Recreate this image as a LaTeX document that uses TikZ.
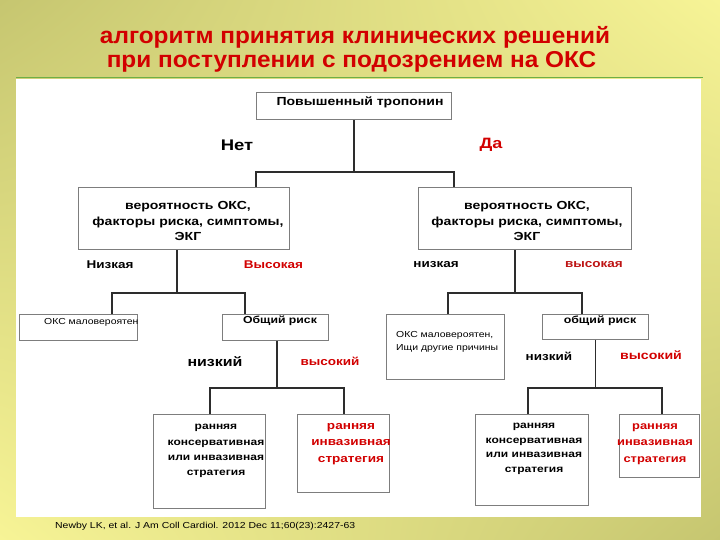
\documentclass[tikz,border=0pt]{standalone}
\usepackage{fontspec}
\setmainfont{Liberation Sans}[FakeStretch=1.2]
\newfontfamily\titlefont{Liberation Sans}[FakeStretch=1.06]
\usetikzlibrary{shadings}
\definecolor{olivebg}{RGB}{198,198,112}
\definecolor{lightyel}{RGB}{247,244,150}
\definecolor{titlered}{RGB}{210,0,0}
\definecolor{darkred}{RGB}{190,20,20}
\definecolor{boxgray}{RGB}{125,125,125}
\definecolor{linegray}{RGB}{45,45,45}
\definecolor{panelgreen}{RGB}{110,175,70}
\tikzset{
  box/.style={draw=boxgray, line width=1.1pt, fill=white, anchor=north west, inner sep=0pt},
  conn/.style={draw=linegray, line width=1.4pt},
  txt/.style={font=\bfseries\fontsize{11.7}{15.5}\selectfont, align=center, inner sep=0pt},
  lbl/.style={font=\bfseries\fontsize{11.25}{14}\selectfont, inner sep=0pt},
  small/.style={font=\fontsize{8.7}{12.5}\selectfont, align=left, inner sep=0pt},
  ttl/.style={titlered, font=\titlefont\bfseries\fontsize{23}{24}\selectfont, inner sep=0pt, anchor=base},
}
\begin{document}
\begin{tikzpicture}[x=1pt,y=-1pt]
\useasboundingbox (0,0) rectangle (720,540);
\shade[upper left=olivebg, upper right=lightyel, lower left=lightyel, lower right=olivebg] (0,0) rectangle (720,540);
\fill[white] (16,79) rectangle (701,517);
\draw[panelgreen, line width=1pt] (16,78) -- (703,78);

% title
\node[ttl] (t1) at (355,44) {алгоритм принятия клинических решений};
\node[ttl] (t2) at (351.5,68) {при поступлении с подозрением на ОКС};

% level 1
\node[box, minimum width=195pt, minimum height=27pt] (trop) at (256,92) {};
\node[txt] (troptxt) at (360,102) {Повышенный тропонин};
\node[lbl, font=\bfseries\fontsize{15.4}{18}\selectfont] (net) at (237,145) {Нет};
\node[lbl, titlered, font=\bfseries\fontsize{15}{18}\selectfont] (da) at (491,145) {Да};

% level 2
\node[box, minimum width=211pt, minimum height=62pt] (L2) at (78,187) {};
\node[txt] (L2t) at (188,221) {вероятность ОКС,\\ факторы риска, симптомы,\\ ЭКГ};
\node[box, minimum width=213pt, minimum height=62pt] (R2) at (418,187) {};
\node[txt] (R2t) at (527,221) {вероятность ОКС,\\ факторы риска, симптомы,\\ ЭКГ};

\coordinate (a1) at (256,172);
\coordinate (a2) at (454,172);
\draw[conn] (trop.south) -- (trop.south |- a1);
\draw[conn] (L2.north -| a1) -- (a1) -- (a2) -- (R2.north -| a2);

\node[lbl] (nizkL) at (110,265) {Низкая};
\node[lbl, titlered] (vysL) at (273.5,265) {Высокая};
\node[lbl] (nizkR) at (436,265) {низкая};
\node[lbl, darkred] (vysR) at (594,265) {высокая};

% level 3
\node[box, minimum width=118pt, minimum height=26pt] (L3a) at (19,314) {};
\node[small, anchor=west] (L3at) at (44,322) {ОКС маловероятен};
\node[box, minimum width=106pt, minimum height=26pt] (L3b) at (222,314) {};
\node[lbl, font=\bfseries\fontsize{10.2}{14}\selectfont] (L3bt) at (280,321) {Общий риск};
\node[box, minimum width=118pt, minimum height=65pt] (R3a) at (386,314) {};
\node[small, anchor=west] (R3at) at (396,342) {ОКС маловероятен,\\ Ищи другие причины};
\node[box, minimum width=106pt, minimum height=25pt] (R3b) at (542,314) {};
\node[lbl, font=\bfseries\fontsize{10.3}{14}\selectfont] (R3bt) at (600,321) {общий риск};

\coordinate (b1) at (112,293);
\coordinate (b2) at (245,293);
\coordinate (bL) at (177,293);
\draw[conn] (L2.south -| bL) -- (bL);
\draw[conn] (L3a.north -| b1) -- (b1) -- (b2) -- (L3b.north -| b2);
\coordinate (c1) at (448,293);
\coordinate (c2) at (582,293);
\coordinate (cR) at (515,293);
\draw[conn] (R2.south -| cR) -- (cR);
\draw[conn] (R3a.north -| c1) -- (c1) -- (c2) -- (R3b.north -| c2);

\node[lbl, font=\bfseries\fontsize{13.3}{16}\selectfont] (nzL) at (215,362) {низкий};
\node[lbl, titlered] (vsL) at (330,361) {высокий};
\node[lbl] (nzR) at (549,356) {низкий};
\node[lbl, titlered, font=\bfseries\fontsize{11.8}{14}\selectfont] (vsR) at (651,355) {высокий};

% level 4
\node[box, minimum width=112pt, minimum height=94pt] (L4a) at (153,414) {};
\node[txt, font=\bfseries\fontsize{10}{15.2}\selectfont] (L4at) at (216,451) {ранняя\\ консервативная\\ или инвазивная\\ стратегия};
\node[box, minimum width=92pt, minimum height=78pt] (L4b) at (297,414) {};
\node[txt, titlered, font=\bfseries\fontsize{11.3}{16.5}\selectfont] (L4bt) at (351,444) {ранняя\\ инвазивная\\ стратегия};
\node[box, minimum width=113pt, minimum height=91pt] (R4a) at (475,414) {};
\node[txt, font=\bfseries\fontsize{10}{14.6}\selectfont] (R4at) at (534,449) {ранняя\\ консервативная\\ или инвазивная\\ стратегия};
\node[box, minimum width=80pt, minimum height=63pt] (R4b) at (619,414) {};
\node[txt, titlered, font=\bfseries\fontsize{10.75}{16.5}\selectfont] (R4bt) at (655,444) {ранняя\\ инвазивная\\ стратегия};

\coordinate (d1) at (210,388);
\coordinate (d2) at (344,388);
\coordinate (dL) at (277,388);
\draw[conn] (L3b.south -| dL) -- (dL);
\draw[conn] (L4a.north -| d1) -- (d1) -- (d2) -- (L4b.north -| d2);
\coordinate (e1) at (528,388);
\coordinate (e2) at (662,388);
\draw[conn] (R3b.south) -- (R3b.south |- e1);
\draw[conn] (R4a.north -| e1) -- (e1) -- (e2) -- (R4b.north -| e2);

\node[font=\fontsize{8.7}{12}\selectfont, inner sep=0pt, anchor=west] (ref) at (55,526) {Newby LK, et al. J Am Coll Cardiol. 2012 Dec 11;60(23):2427-63};
\end{tikzpicture}
\end{document}
